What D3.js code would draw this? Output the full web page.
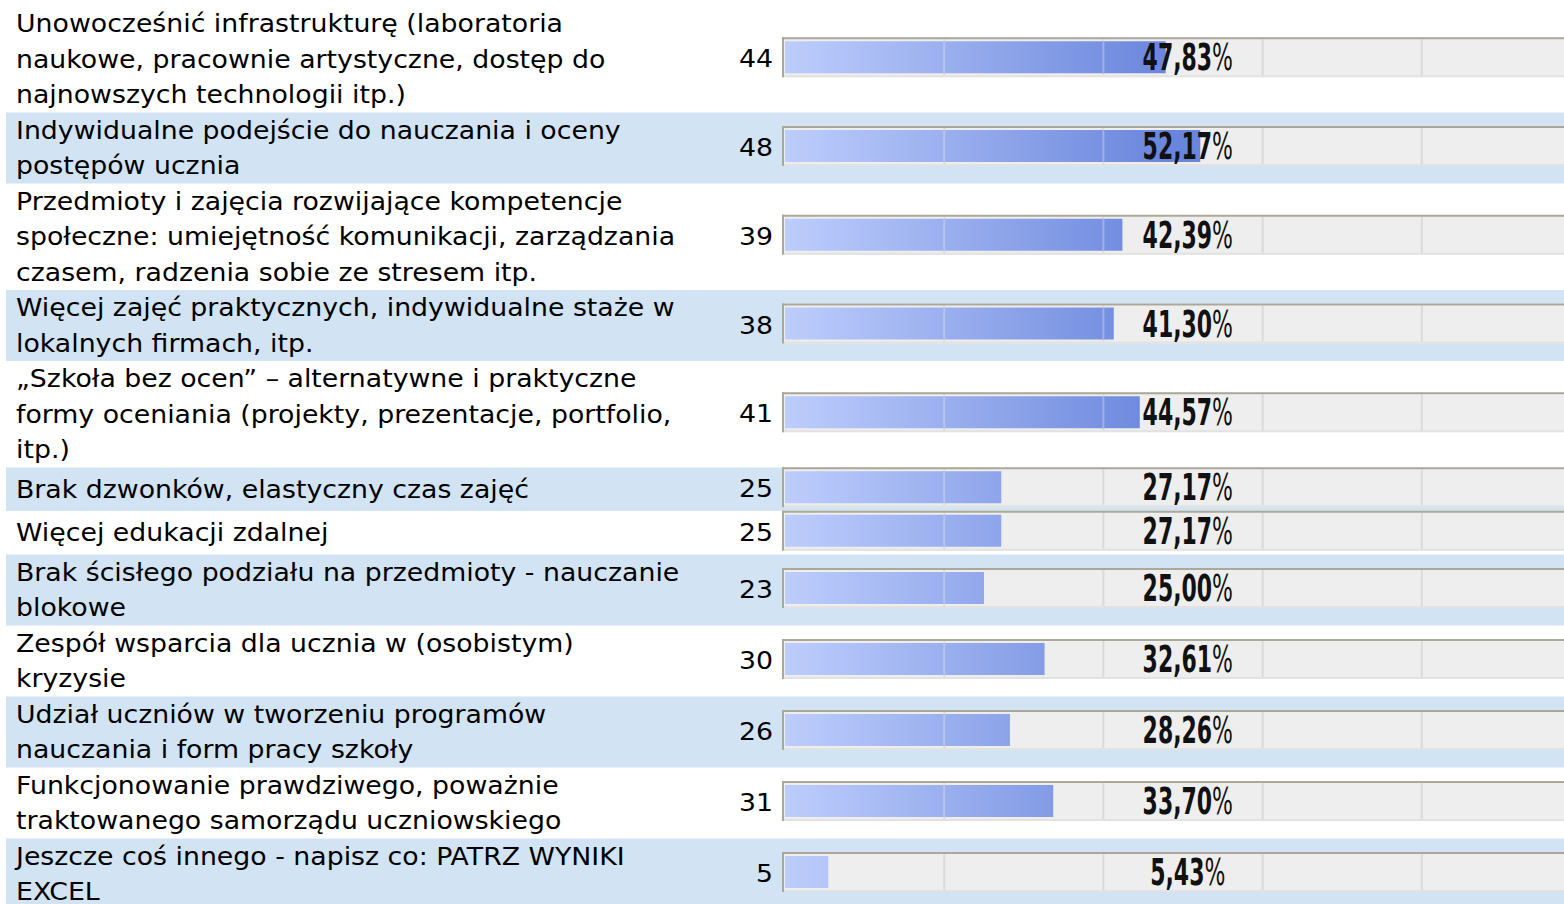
<!DOCTYPE html>
<html>
<head>
  <meta charset="utf-8">
  <script src="https://cdn.jsdelivr.net/npm/d3@7"></script>
  <style>
    body { margin: 0; background: #fff; }
    svg { display: block; }
    .lbl { font-family: "DejaVu Sans", Verdana, sans-serif; font-size: 24px; fill: #000; }
    .pct { font-family: "Liberation Sans Narrow", "DejaVu Sans Condensed", sans-serif; font-weight: bold; font-size: 37px; fill: #111; }
    .pct tspan { font-weight: normal; }
  </style>
</head>
<body>
<script>
  // answers, already wrapped the way the survey page wraps them
  var labels = [
    ["Unowocześnić infrastrukturę (laboratoria", "naukowe, pracownie artystyczne, dostęp do", "najnowszych technologii itp.)"],
    ["Indywidualne podejście do nauczania i oceny", "postępów ucznia"],
    ["Przedmioty i zajęcia rozwijające kompetencje", "społeczne: umiejętność komunikacji, zarządzania", "czasem, radzenia sobie ze stresem itp."],
    ["Więcej zajęć praktycznych, indywidualne staże w", "lokalnych firmach, itp."],
    ["„Szkoła bez ocen” – alternatywne i praktyczne", "formy oceniania (projekty, prezentacje, portfolio,", "itp.)"],
    ["Brak dzwonków, elastyczny czas zajęć"],
    ["Więcej edukacji zdalnej"],
    ["Brak ścisłego podziału na przedmioty - nauczanie", "blokowe"],
    ["Zespół wsparcia dla ucznia w (osobistym)", "kryzysie"],
    ["Udział uczniów w tworzeniu programów", "nauczania i form pracy szkoły"],
    ["Funkcjonowanie prawdziwego, poważnie", "traktowanego samorządu uczniowskiego"],
    ["Jeszcze coś innego - napisz co: PATRZ WYNIKI", "EXCEL"]
  ];
  var counts = [44, 48, 39, 38, 41, 25, 25, 23, 30, 26, 31, 5];
  var percents = [47.83, 52.17, 42.39, 41.30, 44.57, 27.17, 27.17, 25.00, 32.61, 28.26, 33.70, 5.43];
  var gridTicks = [20, 40, 60, 80];

  var W = 1564, H = 904;
  var lineH = 35.5, minRow = 43.5, top0 = 6;
  var trackX = 782, trackH = 40, barX = 785;
  var sx = 1.115; // stretch to Verdana width

  var svg = d3.select("body").append("svg").attr("width", W).attr("height", H);

  var x = d3.scaleLinear().domain([0, 100]).range([barX, barX + 796]);

  // row boxes
  var rows = [], y0 = top0;
  labels.forEach(function (l, i) {
    var h = Math.max(l.length * lineH, minRow);
    rows.push({ i: i, lines: l, y: y0, h: h, count: counts[i], pct: percents[i] });
    y0 += h;
  });

  var defs = svg.append("defs");
  var grad = defs.append("linearGradient").attr("id", "barGrad")
    .attr("gradientUnits", "userSpaceOnUse")
    .attr("x1", x(0)).attr("x2", x(48)).attr("y1", 0).attr("y2", 0);
  grad.append("stop").attr("offset", 0).attr("stop-color", "#bdcdfc");
  grad.append("stop").attr("offset", 1).attr("stop-color", "#6a86dc");

  var g = svg.selectAll("g.row").data(rows).enter().append("g")
    .attr("class", "row")
    .attr("transform", function (d) { return "translate(0," + d.y + ")"; });

  g.filter(function (d) { return d.i % 2 === 1; }).append("rect")
    .attr("x", 6).attr("y", 0).attr("width", W - 6)
    .attr("height", function (d) { return d.h; })
    .attr("fill", "#d2e3f3");

  g.each(function (d) {
    var sel = d3.select(this);
    var blockTop = (d.h - d.lines.length * lineH) / 2;
    d.lines.forEach(function (t, k) {
      sel.append("text").attr("class", "lbl")
        .attr("transform", "translate(16," + (blockTop + k * lineH + lineH / 2 + 8.5) + ") scale(" + sx + ",1)")
        .text(t);
    });
  });

  // count next to the bar
  g.append("text").attr("class", "lbl")
    .attr("text-anchor", "end")
    .attr("transform", function (d) { return "translate(773," + (d.h / 2 + 8) + ") scale(" + sx + ",1)"; })
    .text(function (d) { return d.count; });

  // track
  var ty = function (d) { return d.h / 2 - 2 - trackH / 2; };
  g.append("rect")
    .attr("x", trackX).attr("y", ty)
    .attr("width", W - trackX).attr("height", trackH)
    .attr("fill", "#eeeeee");
  g.append("rect")
    .attr("x", trackX).attr("y", function (d) { return ty(d) + trackH - 2; })
    .attr("width", W - trackX).attr("height", 2)
    .attr("fill", "#e2e2e2");

  // grid lines on the track
  gridTicks.forEach(function (t) {
    g.append("rect")
      .attr("x", x(t) - 1).attr("y", function (d) { return ty(d) + 2; })
      .attr("width", 2).attr("height", trackH - 4)
      .attr("fill", "#dadada");
  });

  g.append("rect")
    .attr("x", trackX).attr("y", ty)
    .attr("width", W - trackX).attr("height", 2)
    .attr("fill", "#aca899");
  g.append("rect")
    .attr("x", trackX).attr("y", ty)
    .attr("width", 2).attr("height", trackH)
    .attr("fill", "#aca899");

  // bars
  g.append("rect")
    .attr("x", x(0))
    .attr("y", function (d) { return ty(d) + 4; })
    .attr("width", function (d) { return x(d.pct) - x(0); })
    .attr("height", trackH - 8)
    .attr("fill", "url(#barGrad)");

  // faint light grid lines over the bar
  gridTicks.forEach(function (t) {
    g.filter(function (d) { return d.pct > t; }).append("rect")
      .attr("x", x(t) - 1).attr("y", function (d) { return ty(d) + 4; })
      .attr("width", 2).attr("height", trackH - 8)
      .attr("fill", "rgba(235,235,240,0.35)");
  });

  // percentage label
  var pt = g.append("text").attr("class", "pct")
    .attr("text-anchor", "middle")
    .attr("transform", function (d) {
      return "translate(" + (x(50.6)) + "," + (ty(d) + trackH / 2 + 13) + ") scale(0.66,1)";
    });
  pt.text(function (d) { return d.pct.toFixed(2).replace(".", ","); });
  pt.append("tspan").text("%");
</script>
</body>
</html>
